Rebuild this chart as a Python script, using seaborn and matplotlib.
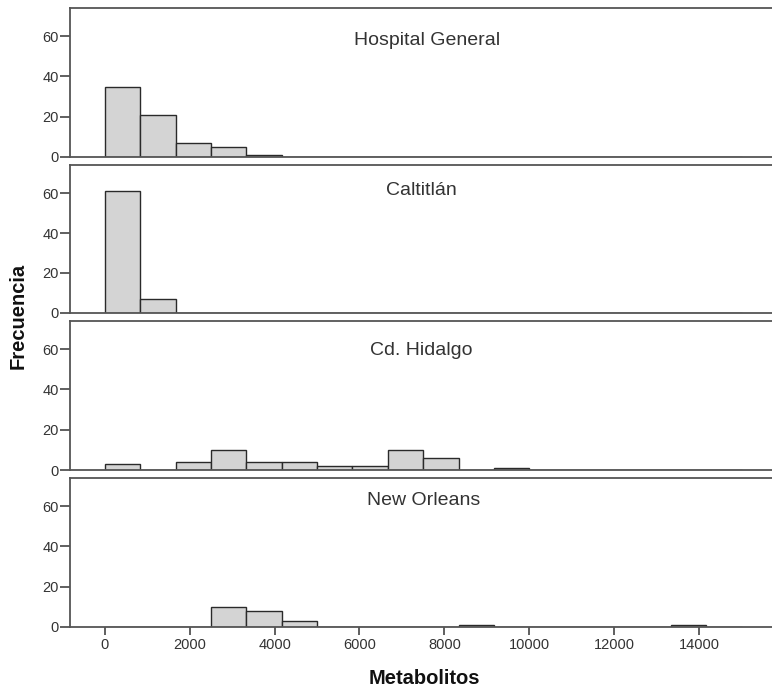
import numpy as np
import pandas as pd
import matplotlib
matplotlib.use("Agg")
import matplotlib.pyplot as plt
import matplotlib.transforms as mtransforms
import seaborn as sns

sns.set_style("white")
plt.rcParams['font.family'] = ['Liberation Sans', 'DejaVu Sans']

# ---- data ----
bin_width = 2500 / 3
bin_edges = [float(v) for v in np.arange(0, 15000 + 1, bin_width)]
bin_centers = [(a + b) / 2 for a, b in zip(bin_edges[:-1], bin_edges[1:])]

panels = ["Hospital General", "Caltitlán", "Cd. Hidalgo", "New Orleans"]
counts_hospital = [35, 21, 7, 5, 1, 0, 0, 0, 0, 0, 0, 0, 0, 0, 0, 0, 0, 0]
counts_caltitlan = [61, 7, 0, 0, 0, 0, 0, 0, 0, 0, 0, 0, 0, 0, 0, 0, 0, 0]
counts_hidalgo = [3, 0, 4, 10, 4, 4, 2, 2, 10, 6, 0, 1, 0, 0, 0, 0, 0, 0]
counts_orleans = [0, 0, 0, 10, 8, 3, 0, 0, 0, 0, 1, 0, 0, 0, 0, 0, 1, 0]
all_counts = [counts_hospital, counts_caltitlan, counts_hidalgo, counts_orleans]

x_ticks = [0, 2000, 4000, 6000, 8000, 10000, 12000, 14000]
y_ticks = [0, 20, 40, 60]

df = pd.concat([
    pd.DataFrame({"sitio": name, "Metabolitos": bin_centers, "n": cnt})
    for name, cnt in zip(panels, all_counts)
], ignore_index=True)

# ---- layout (pixel based) ----
W, H = 772, 688
fig = plt.figure(figsize=(W / 100, H / 100), dpi=100)
panel_px = [(8, 157), (165, 313), (321, 470), (478, 627)]
title_y = [0.78, 0.83, 0.80, 0.85]
title_x = [7600, 7450, 7450, 7500]
left_px = 70

axes = []
for i, (name, (top, bot)) in enumerate(zip(panels, panel_px)):
    ax = fig.add_axes([left_px / W, 1 - bot / H, (W - left_px) / W + 0.01, (bot - top) / H])
    sub = df[df["sitio"] == name].reset_index(drop=True)
    sns.histplot(data=sub, x="Metabolitos", weights="n", bins=bin_edges, ax=ax,
                 color="#d4d4d4", edgecolor="#2a2a2a", linewidth=1.0, alpha=1.0)
    ax.set_xlim(-820, 15900)
    ax.set_ylim(0, 74)
    ax.set_yticks(y_ticks)
    ax.set_yticklabels([str(t) for t in y_ticks], fontsize=10.5, color="#333333")
    ax.set_ylabel("")
    ax.set_xlabel("")
    ax.set_xticks(x_ticks)
    if i < 3:
        ax.tick_params(axis="x", bottom=False, labelbottom=False)
    else:
        ax.set_xticklabels([str(t) for t in x_ticks], fontsize=10.5, color="#333333")
        ax.tick_params(axis="x", bottom=True, length=6, width=1.2, color="#444444", pad=2)
    ax.tick_params(axis="y", left=True, length=7, width=1.2, color="#444444", pad=1)
    for s in ["left", "bottom", "top"]:
        ax.spines[s].set_visible(True)
        ax.spines[s].set_color("#555555")
        ax.spines[s].set_linewidth(1.3)
    ax.spines["right"].set_visible(False)
    trans = mtransforms.blended_transform_factory(ax.transData, ax.transAxes)
    ax.text(title_x[i], title_y[i], name, transform=trans, ha="center", va="center",
            fontsize=14, color="#333333")
    axes.append(ax)

fig.text(18 / W, 1 - 316 / H, "Frecuencia", rotation=90, ha="center", va="center",
         fontsize=14.5, fontweight="bold", color="#111111")
fig.text(424 / W, 1 - 678 / H, "Metabolitos", ha="center", va="center",
         fontsize=14.5, fontweight="bold", color="#111111")

fig.savefig("out.png", dpi=100, facecolor="white")
